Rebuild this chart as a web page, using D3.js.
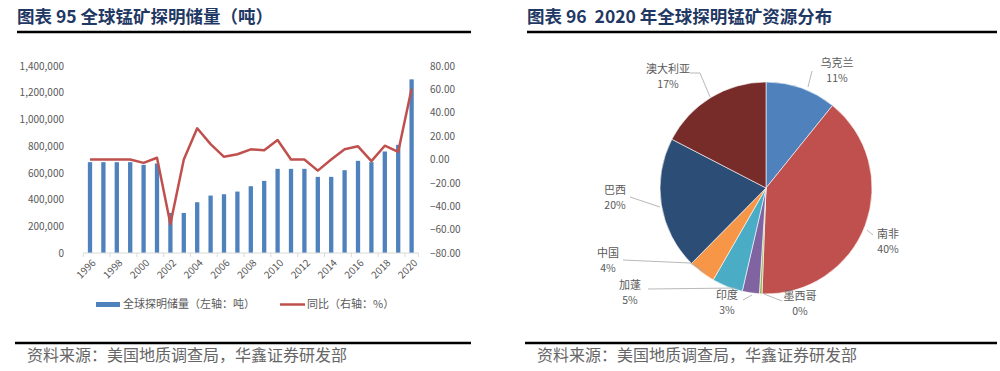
<!DOCTYPE html>
<html>
<head>
<meta charset="utf-8">
<script src="https://cdn.jsdelivr.net/npm/d3@7/dist/d3.min.js"></script>
<style>
  html, body { margin: 0; padding: 0; background: #fff; }
  text { font-family: "Noto Sans CJK SC", "Noto Sans", sans-serif; white-space: pre; }
</style>
</head>
<body>
<svg id="chart" width="1000" height="371"></svg>
<script>
// left chart: reserves (t) and yoy (%)
const years = d3.range(1996, 2021).map(String)
const reserves = [680000, 680000, 680000, 680000, 660000, 670000, 300000, 300000, 380000, 430000,
    440000, 460000, 500000, 540000, 630000, 630000, 630000, 570000, 570000, 620000,
    690000, 680000, 760000, 810000, 1300000]
const yoy = [0, 0, 0, 0, -2.9, 1.5, -55.2, 0, 26.7, 13.2,
    2.3, 4.5, 8.7, 8.0, 16.7, 0, 0, -9.5, 0, 8.8,
    11.3, -1.4, 11.8, 6.6, 60.5]
const leftTicks = [0, 200000, 400000, 600000, 800000, 1000000, 1200000, 1400000]
const rightTicks = [-80, -60, -40, -20, 0, 20, 40, 60, 80]

// right chart: 2020 distribution
const countries = ["乌克兰", "南非", "墨西哥", "印度", "加蓬", "中国", "巴西", "澳大利亚"]
const shares = [10.8, 39.8, 0.4, 2.6, 4.7, 4.1, 20.2, 17.4]
const pieColors = ["#4F81BD", "#C0504D", "#9BBB59", "#8064A2", "#4BACC6", "#F79646", "#2C4D75", "#772C2A"]

const svg = d3.select("#chart")
const grey = "#595959"

// headers and footers
const titles = [
    { x: 17, x2: 471, text: "图表 95 全球锰矿探明储量（吨）" },
    { x: 527, x2: 997, text: "图表 96  2020 年全球探明锰矿资源分布" }
]
titles.forEach(t => {
    svg.append("text")
        .attr("x", t.x).attr("y", 23)
        .attr("font-size", 17.5).attr("font-weight", "bold")
        .attr("fill", "#1F3864")
        .text(t.text)
    svg.append("line")
        .attr("x1", t.x).attr("x2", t.x2)
        .attr("y1", 32).attr("y2", 32)
        .attr("stroke", "#000").attr("stroke-width", 2.5)
    svg.append("line")
        .attr("x1", t.x - 2).attr("x2", t.x2)
        .attr("y1", 343).attr("y2", 343)
        .attr("stroke", "#000").attr("stroke-width", 2.5)
    svg.append("text")
        .attr("x", t.x + 10).attr("y", 361)
        .attr("font-size", 16)
        .attr("fill", "#666")
        .text("资料来源：美国地质调查局，华鑫证券研发部")
})

// ---- bar + line chart ----
const x = d3.scaleBand().domain(years).range([83.3, 418.3]).padding(0)
const yL = d3.scaleLinear().domain([0, 1400000]).range([253, 66])
const yR = d3.scaleLinear().domain([-80, 80]).range([253, 66])
const barW = x.bandwidth() * 0.32

const left = svg.append("g")

left.append("g")
    .attr("transform", "translate(67,0)")
    .call(d3.axisLeft(yL).tickValues(leftTicks).tickSize(0).tickFormat(d3.format(",")))
    .call(g => g.select(".domain").remove())
    .selectAll("text")
    .attr("font-size", 10).attr("fill", grey)
    .attr("font-family", "Liberation Sans, Arial, sans-serif")

left.append("g")
    .attr("transform", "translate(430,0)")
    .call(d3.axisRight(yR).tickValues(rightTicks).tickSize(0).tickFormat(d3.format(".2f")))
    .call(g => g.select(".domain").remove())
    .selectAll("text")
    .attr("x", 0)
    .attr("font-size", 10).attr("fill", grey)
    .attr("font-family", "Liberation Sans, Arial, sans-serif")

left.selectAll("rect.bar")
    .data(years)
    .join("rect")
    .attr("class", "bar")
    .attr("x", (d) => x(d) + (x.bandwidth() - barW) / 2)
    .attr("width", barW)
    .attr("y", (d, i) => yL(reserves[i]))
    .attr("height", (d, i) => yL(0) - yL(reserves[i]))
    .attr("fill", "#4F81BD")

// x axis
left.append("line")
    .attr("x1", x.range()[0]).attr("x2", x.range()[1])
    .attr("y1", yL(0)).attr("y2", yL(0))
    .attr("stroke", "#D9D9D9")
const evenYears = years.filter((d, i) => i % 2 === 0)
left.selectAll("line.tick")
    .data(evenYears.concat(["end"]))
    .join("line")
    .attr("class", "tick")
    .attr("x1", d => d === "end" ? x.range()[1] : x(d))
    .attr("x2", d => d === "end" ? x.range()[1] : x(d))
    .attr("y1", yL(0)).attr("y2", yL(0) + 4)
    .attr("stroke", "#D9D9D9")
left.selectAll("text.xlab")
    .data(evenYears)
    .join("text")
    .attr("class", "xlab")
    .attr("transform", d => `translate(${x(d) + x.bandwidth() / 2 + 4},${yL(0) + 8}) rotate(-45)`)
    .attr("text-anchor", "end")
    .attr("dy", "0.35em")
    .attr("font-size", 10).attr("fill", grey)
    .attr("font-family", "Liberation Sans, Arial, sans-serif")
    .text(d => d)

const line = d3.line()
    .x((d, i) => x(years[i]) + x.bandwidth() / 2)
    .y(d => yR(d))
left.append("path")
    .datum(yoy)
    .attr("d", line)
    .attr("fill", "none")
    .attr("stroke", "#C0504D")
    .attr("stroke-width", 2.5)
    .attr("stroke-linejoin", "round")

// legend
const legend = left.append("g").attr("font-size", 11).attr("fill", grey)
legend.append("rect").attr("x", 96).attr("y", 302).attr("width", 24).attr("height", 5).attr("fill", "#4F81BD")
legend.append("text").attr("x", 123).attr("y", 308).attr("fill", grey).text("全球探明储量（左轴：吨）")
legend.append("line").attr("x1", 280).attr("x2", 305).attr("y1", 304.5).attr("y2", 304.5)
    .attr("stroke", "#C0504D").attr("stroke-width", 2.5)
legend.append("text").attr("x", 307).attr("y", 308).attr("fill", grey).text("同比（右轴：%）")

// ---- pie ----
const cx = 766, cy = 188, r = 106
const pie = d3.pie().sort(null).value(d => d)
const arcs = pie(shares)
const arc = d3.arc().innerRadius(0).outerRadius(r)
const pg = svg.append("g").attr("transform", `translate(${cx},${cy})`)
pg.selectAll("path")
    .data(arcs)
    .join("path")
    .attr("d", arc)
    .attr("fill", (d, i) => pieColors[i])
    .attr("stroke", "#fff")
    .attr("stroke-width", 0.6)

// label positions (relative to pie centre) and leader lines
const labelPos = [[71, -121], [122, 50], [34, 112], [-39, 111], [-136, 101], [-158, 69], [-151, 6], [-98, -115]]
const leaders = [
    [[46, -117], [42, -101]],
    [[107, 47], [101, 42]],
    [[16, 113], [-2, 106]],
    [[-23, 112], [-14, 107]],
    [[-118, 101], [-29, 100]],
    [[-143, 72], [-76, 75], [-59, 85]],
    [[-136, 9], [-106, 19]],
    [[-76, -115], [-66, -115], [-56, -91]]
]
const leaderLine = d3.line()
pg.selectAll("path.leader")
    .data(leaders)
    .join("path")
    .attr("class", "leader")
    .attr("d", d => leaderLine(d))
    .attr("fill", "none")
    .attr("stroke", "#A6A6A6")
    .attr("stroke-width", 0.8)

const fmtPct = (d) => Math.round(d.value / d3.sum(shares) * 100) + "%"
const labels = pg.selectAll("g.lab")
    .data(arcs)
    .join("g")
    .attr("class", "lab")
    .attr("transform", (d, i) => `translate(${labelPos[i][0]},${labelPos[i][1]})`)
labels.append("text")
    .attr("text-anchor", "middle")
    .attr("font-size", 11).attr("fill", grey)
    .text((d, i) => countries[i])
labels.append("text")
    .attr("text-anchor", "middle")
    .attr("y", 15)
    .attr("font-size", 10.5).attr("fill", grey)
    .attr("font-family", "Liberation Sans, Arial, sans-serif")
    .text(d => fmtPct(d))
</script>
</body>
</html>
